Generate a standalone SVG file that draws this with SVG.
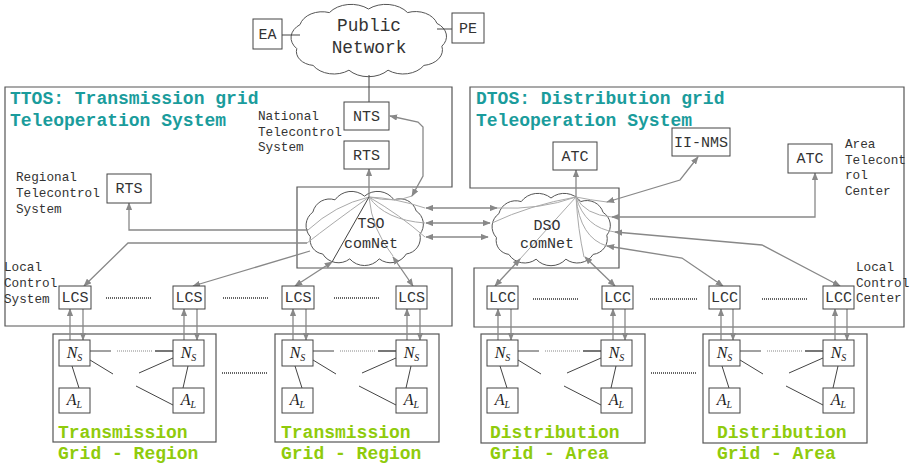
<svg xmlns="http://www.w3.org/2000/svg" width="912" height="466" viewBox="0 0 912 466">
<style>
.bx{fill:#fff;stroke:#444;stroke-width:1}
.cont{fill:none;stroke:#555;stroke-width:1.2}
.cloud{fill:#fff;stroke:#555;stroke-width:1}
.t{font-family:"Liberation Mono",monospace;font-size:15px;fill:#333;text-anchor:middle}
.lbl{font-family:"Liberation Mono",monospace;font-size:12.7px;fill:#333}
.title{font-family:"Liberation Mono",monospace;font-size:18px;font-weight:bold;fill:#1a9c9c}
.grid{font-family:"Liberation Mono",monospace;font-size:18px;font-weight:bold;fill:#8fcb0c}
.math{font-family:"Liberation Serif",serif;font-style:italic;font-size:16px;fill:#222;text-anchor:middle}
.sub{font-size:10px}
.ar{fill:none;stroke:#888;stroke-width:1.3}
.in{fill:none;stroke:#aaa;stroke-width:1}
.dk{fill:none;stroke:#444;stroke-width:1}
.dot{fill:none;stroke:#333;stroke-width:1.5;stroke-dasharray:1 1}
.ln{fill:none;stroke:#444;stroke-width:1}
.lnb{fill:none;stroke:#777;stroke-width:2}
</style>
<defs>
<marker id="ah" viewBox="0 0 10 8" refX="9" refY="4" markerWidth="8" markerHeight="6.4" markerUnits="userSpaceOnUse" orient="auto-start-reverse"><path d="M0,0 L10,4 L0,8 z" fill="#888"/></marker>
<path id="cl" d="M6,38 A13.5,13.5 0 0 1 8,18 A14,14 0 0 1 26,8 A16.5,16.5 0 0 1 50,5 A16.5,16.5 0 0 1 74,8 A13.7,13.7 0 0 1 92,17 A13,13 0 0 1 95,36 A13,13 0 0 1 84,52 A15,15 0 0 1 62,56 A16,16 0 0 1 38,56 A15,15 0 0 1 16,52 A11.7,11.7 0 0 1 6,38 Z"/>
</defs>
<rect width="912" height="466" fill="#fff"/>

<g id="containers">
<polygon class="cont" points="5,87 452,87 452,187 297,187 297,268 452,268 452,326 5,326"/>
<polygon class="cont" points="470,87 904,87 904,327 474,327 474,268 619,268 619,188 470,188"/>
<rect class="cont" x="53" y="334" width="163" height="108"/>
<rect class="cont" x="275" y="334" width="164" height="108"/>
<rect class="cont" x="481" y="334" width="164" height="109"/>
<rect class="cont" x="703" y="334" width="164" height="109"/>
</g>

<g id="public-network">
<path d="M6,38 A13.5,13.5 0 0 1 8,18 A14,14 0 0 1 26,8 A16.5,16.5 0 0 1 50,5 A16.5,16.5 0 0 1 74,8 A13.7,13.7 0 0 1 92,17 A13,13 0 0 1 95,36 A13,13 0 0 1 84,52 A15,15 0 0 1 62,56 A16,16 0 0 1 38,56 A15,15 0 0 1 16,52 A11.7,11.7 0 0 1 6,38 Z" class="cloud" vector-effect="non-scaling-stroke" transform="translate(287,3) scale(1.63,1.2)"/>
</g>
<g id="tso-comnet">
<path d="M6,38 A13.5,13.5 0 0 1 8,18 A14,14 0 0 1 26,8 A16.5,16.5 0 0 1 50,5 A16.5,16.5 0 0 1 74,8 A13.7,13.7 0 0 1 92,17 A13,13 0 0 1 95,36 A13,13 0 0 1 84,52 A15,15 0 0 1 62,56 A16,16 0 0 1 38,56 A15,15 0 0 1 16,52 A11.7,11.7 0 0 1 6,38 Z" class="cloud" vector-effect="non-scaling-stroke" transform="translate(303,190) scale(1.23,1.23)"/>
</g>
<g id="dso-comnet">
<path d="M6,38 A13.5,13.5 0 0 1 8,18 A14,14 0 0 1 26,8 A16.5,16.5 0 0 1 50,5 A16.5,16.5 0 0 1 74,8 A13.7,13.7 0 0 1 92,17 A13,13 0 0 1 95,36 A13,13 0 0 1 84,52 A15,15 0 0 1 62,56 A16,16 0 0 1 38,56 A15,15 0 0 1 16,52 A11.7,11.7 0 0 1 6,38 Z" class="cloud" vector-effect="non-scaling-stroke" transform="translate(489,192) scale(1.24,1.2)"/>
</g>

<g id="connectors">
<!-- public network -->
<line class="ln" x1="282" y1="35" x2="300" y2="35"/>
<line class="ln" x1="437" y1="29" x2="452" y2="29"/>
<line class="ln" x1="369" y1="75" x2="369" y2="102"/>
<!-- TSO internal curves -->
<path class="in" d="M369,197 Q335,205 308,230"/>
<path class="in" d="M369,197 Q330,225 307,243"/>
<path class="in" d="M369,197 Q395,198 425,208"/>
<path class="in" d="M369,197 Q385,220 425,223"/>
<path class="in" d="M369,197 Q372,230 393,256"/>
<path class="in" d="M369,197 Q400,215 425,237"/>
<path class="in" d="M369,197 Q395,203 412,196"/>
<path class="dk" d="M369,197 L332,262"/>
<!-- TSO arrows -->
<line class="ar" x1="369" y1="197" x2="369" y2="169" marker-end="url(#ah)"/>
<polyline class="ar" points="412,196 423,176 423,127 418,122 390,116" marker-start="url(#ah)" marker-end="url(#ah)"/>
<polyline class="ar" points="308,230 129,230 129,203" marker-end="url(#ah)"/>
<polyline class="ar" points="307,243 128,243 84,286" marker-end="url(#ah)"/>
<line class="ar" x1="310" y1="251" x2="193" y2="286" marker-end="url(#ah)"/>
<line class="ar" x1="332" y1="262" x2="295" y2="286" marker-start="url(#ah)" marker-end="url(#ah)"/>
<line class="ar" x1="393" y1="257" x2="413" y2="286" marker-start="url(#ah)" marker-end="url(#ah)"/>
<line class="ar" x1="426" y1="208" x2="497" y2="208" marker-start="url(#ah)" marker-end="url(#ah)"/>
<line class="ar" x1="426" y1="223" x2="490" y2="223" marker-start="url(#ah)" marker-end="url(#ah)"/>
<line class="ar" x1="426" y1="237" x2="488" y2="237" marker-start="url(#ah)" marker-end="url(#ah)"/>
<!-- DSO internal curves -->
<path class="in" d="M576,197 Q540,210 497,208"/>
<path class="in" d="M576,197 Q530,205 492,223"/>
<path class="in" d="M576,197 Q590,200 607,202"/>
<path class="in" d="M576,197 Q585,215 612,217"/>
<path class="in" d="M576,197 Q585,228 615,232"/>
<path class="in" d="M576,197 Q580,238 607,246"/>
<path class="in" d="M576,197 Q578,230 584,257"/>
<path class="in" d="M576,197 L520,259"/>
<!-- DSO arrows -->
<line class="ar" x1="576" y1="197" x2="576" y2="170" marker-end="url(#ah)"/>
<polyline class="ar" points="607,202 680,180 698,157" marker-start="url(#ah)" marker-end="url(#ah)"/>
<polyline class="ar" points="612,217 815,217 815,173" marker-start="url(#ah)" marker-end="url(#ah)"/>
<polyline class="ar" points="615,232 762,245 840,286" marker-start="url(#ah)" marker-end="url(#ah)"/>
<polyline class="ar" points="607,246 682,258 723,286" marker-start="url(#ah)" marker-end="url(#ah)"/>
<line class="ar" x1="585" y1="257" x2="615" y2="286" marker-start="url(#ah)" marker-end="url(#ah)"/>
<line class="ar" x1="520" y1="259" x2="495" y2="286" marker-start="url(#ah)" marker-end="url(#ah)"/>
<!-- LCS / LCC to N_S -->
<line class="ar" x1="70" y1="340" x2="70" y2="309" marker-end="url(#ah)"/>
<line class="ar" x1="83" y1="309" x2="83" y2="340" marker-end="url(#ah)"/>
<line class="ar" x1="184" y1="340" x2="184" y2="309" marker-end="url(#ah)"/>
<line class="ar" x1="197" y1="309" x2="197" y2="340" marker-end="url(#ah)"/>
<line class="ar" x1="293" y1="340" x2="293" y2="309" marker-end="url(#ah)"/>
<line class="ar" x1="306" y1="309" x2="306" y2="340" marker-end="url(#ah)"/>
<line class="ar" x1="407" y1="340" x2="407" y2="309" marker-end="url(#ah)"/>
<line class="ar" x1="420" y1="309" x2="420" y2="340" marker-end="url(#ah)"/>
<line class="ar" x1="498" y1="340" x2="498" y2="309" marker-end="url(#ah)"/>
<line class="ar" x1="511" y1="309" x2="511" y2="340" marker-end="url(#ah)"/>
<line class="ar" x1="613" y1="340" x2="613" y2="309" marker-end="url(#ah)"/>
<line class="ar" x1="625" y1="309" x2="625" y2="340" marker-end="url(#ah)"/>
<line class="ar" x1="721" y1="340" x2="721" y2="309" marker-end="url(#ah)"/>
<line class="ar" x1="733" y1="309" x2="733" y2="340" marker-end="url(#ah)"/>
<line class="ar" x1="835" y1="340" x2="835" y2="309" marker-end="url(#ah)"/>
<line class="ar" x1="847" y1="309" x2="847" y2="340" marker-end="url(#ah)"/>
<!-- dotted separators -->
<line class="dot" x1="106" y1="298" x2="151" y2="298"/>
<line class="dot" x1="223" y1="298" x2="268" y2="298"/>
<line class="dot" x1="334" y1="298" x2="380" y2="298"/>
<line class="dot" x1="533" y1="299" x2="579" y2="299"/>
<line class="dot" x1="650" y1="299" x2="697" y2="299"/>
<line class="dot" x1="762" y1="299" x2="808" y2="299"/>
<line class="dot" x1="222" y1="373" x2="268" y2="373"/>
<line class="dot" x1="651" y1="373" x2="697" y2="373"/>
<!-- region internals -->
<g id="r1-edges">
<line class="ln" x1="90" y1="351" x2="111" y2="351"/>
<line class="dot" x1="117" y1="351" x2="153" y2="351" style="stroke:#888;stroke-width:1.2"/>
<line class="lnb" x1="155" y1="351" x2="173" y2="351"/>
<line class="ln" x1="72" y1="366" x2="79" y2="388"/>
<line class="ln" x1="188" y1="366" x2="183" y2="388"/>
<line class="ln" x1="90" y1="360" x2="113" y2="374"/>
<line class="ln" x1="173" y1="358" x2="139" y2="373"/>
<line class="ln" x1="173" y1="405" x2="136" y2="386"/>
</g>
<g id="r2-edges" transform="translate(223,0)">
<line class="ln" x1="90" y1="351" x2="111" y2="351"/>
<line class="dot" x1="117" y1="351" x2="153" y2="351" style="stroke:#888;stroke-width:1.2"/>
<line class="lnb" x1="155" y1="351" x2="173" y2="351"/>
<line class="ln" x1="72" y1="366" x2="79" y2="388"/>
<line class="ln" x1="188" y1="366" x2="183" y2="388"/>
<line class="ln" x1="90" y1="360" x2="113" y2="374"/>
<line class="ln" x1="173" y1="358" x2="139" y2="373"/>
<line class="ln" x1="173" y1="405" x2="136" y2="386"/>
</g>
<g id="r3-edges" transform="translate(428,0)">
<line class="ln" x1="90" y1="351" x2="111" y2="351"/>
<line class="dot" x1="117" y1="351" x2="153" y2="351" style="stroke:#888;stroke-width:1.2"/>
<line class="lnb" x1="155" y1="351" x2="173" y2="351"/>
<line class="ln" x1="72" y1="366" x2="79" y2="388"/>
<line class="ln" x1="188" y1="366" x2="183" y2="388"/>
<line class="ln" x1="90" y1="360" x2="113" y2="374"/>
<line class="ln" x1="173" y1="358" x2="139" y2="373"/>
<line class="ln" x1="173" y1="405" x2="136" y2="386"/>
</g>
<g id="r4-edges" transform="translate(650,0)">
<line class="ln" x1="90" y1="351" x2="111" y2="351"/>
<line class="dot" x1="117" y1="351" x2="153" y2="351" style="stroke:#888;stroke-width:1.2"/>
<line class="lnb" x1="155" y1="351" x2="173" y2="351"/>
<line class="ln" x1="72" y1="366" x2="79" y2="388"/>
<line class="ln" x1="188" y1="366" x2="183" y2="388"/>
<line class="ln" x1="90" y1="360" x2="113" y2="374"/>
<line class="ln" x1="173" y1="358" x2="139" y2="373"/>
<line class="ln" x1="173" y1="405" x2="136" y2="386"/>
</g>
</g>

<!-- cloud labels -->
<text class="t" x="369" y="31" style="font-size:17.8px">Public</text>
<text class="t" x="369" y="53" style="font-size:17.8px">Network</text>
<text class="t" x="371" y="228">TSO</text>
<text class="t" x="371" y="248">comNet</text>
<text class="t" x="547" y="230">DSO</text>
<text class="t" x="547" y="248">comNet</text>

<g id="ea"><rect class="bx" x="253" y="19" width="29" height="30"/><text class="t" x="267.5" y="39">EA</text></g>
<g id="pe"><rect class="bx" x="452" y="13" width="32" height="30"/><text class="t" x="468" y="33">PE</text></g>
<g id="nts"><rect class="bx" x="344" y="102" width="45" height="28"/><text class="t" x="366.5" y="121">NTS</text></g>
<g id="rts-national"><rect class="bx" x="344" y="141" width="45" height="28"/><text class="t" x="366.5" y="160">RTS</text></g>
<g id="rts-regional"><rect class="bx" x="107" y="174" width="44" height="29"/><text class="t" x="129" y="193">RTS</text></g>
<g id="atc-dtos"><rect class="bx" x="553" y="142" width="44" height="28"/><text class="t" x="575" y="161">ATC</text></g>
<g id="ii-nms"><rect class="bx" x="672" y="128" width="58" height="28"/><text class="t" x="701" y="147">II-NMS</text></g>
<g id="atc-area"><rect class="bx" x="788" y="144" width="44" height="29"/><text class="t" x="810" y="163">ATC</text></g>

<g id="lcs1"><rect class="bx" x="59" y="286" width="32" height="23"/><text class="t" x="75" y="302">LCS</text></g>
<g id="lcs2"><rect class="bx" x="173" y="286" width="32" height="23"/><text class="t" x="189" y="302">LCS</text></g>
<g id="lcs3"><rect class="bx" x="282" y="286" width="32" height="23"/><text class="t" x="298" y="302">LCS</text></g>
<g id="lcs4"><rect class="bx" x="396" y="286" width="31" height="23"/><text class="t" x="411.5" y="302">LCS</text></g>
<g id="lcc1"><rect class="bx" x="487" y="286" width="31" height="23"/><text class="t" x="502.5" y="302">LCC</text></g>
<g id="lcc2"><rect class="bx" x="602" y="286" width="31" height="23"/><text class="t" x="617.5" y="302">LCC</text></g>
<g id="lcc3"><rect class="bx" x="709" y="286" width="31" height="23"/><text class="t" x="724.5" y="302">LCC</text></g>
<g id="lcc4"><rect class="bx" x="823" y="286" width="31" height="23"/><text class="t" x="838.5" y="302">LCC</text></g>

<g id="ns1"><rect class="bx" x="59" y="340" width="31" height="26"/><text class="math" x="74.5" y="358">N<tspan class="sub" dy="3">S</tspan></text></g>
<g id="ns2"><rect class="bx" x="173" y="340" width="31" height="26"/><text class="math" x="188.5" y="358">N<tspan class="sub" dy="3">S</tspan></text></g>
<g id="al1"><rect class="bx" x="59" y="388" width="31" height="25"/><text class="math" x="74.5" y="405">A<tspan class="sub" dy="3">L</tspan></text></g>
<g id="al2"><rect class="bx" x="173" y="388" width="31" height="25"/><text class="math" x="188.5" y="405">A<tspan class="sub" dy="3">L</tspan></text></g>
<g id="ns3"><rect class="bx" x="282" y="340" width="31" height="26"/><text class="math" x="297.5" y="358">N<tspan class="sub" dy="3">S</tspan></text></g>
<g id="ns4"><rect class="bx" x="396" y="340" width="31" height="26"/><text class="math" x="411.5" y="358">N<tspan class="sub" dy="3">S</tspan></text></g>
<g id="al3"><rect class="bx" x="282" y="388" width="31" height="25"/><text class="math" x="297.5" y="405">A<tspan class="sub" dy="3">L</tspan></text></g>
<g id="al4"><rect class="bx" x="396" y="388" width="31" height="25"/><text class="math" x="411.5" y="405">A<tspan class="sub" dy="3">L</tspan></text></g>
<g id="ns5"><rect class="bx" x="487" y="340" width="31" height="26"/><text class="math" x="502.5" y="358">N<tspan class="sub" dy="3">S</tspan></text></g>
<g id="ns6"><rect class="bx" x="601" y="340" width="31" height="26"/><text class="math" x="616.5" y="358">N<tspan class="sub" dy="3">S</tspan></text></g>
<g id="al5"><rect class="bx" x="487" y="388" width="31" height="25"/><text class="math" x="502.5" y="405">A<tspan class="sub" dy="3">L</tspan></text></g>
<g id="al6"><rect class="bx" x="601" y="388" width="31" height="25"/><text class="math" x="616.5" y="405">A<tspan class="sub" dy="3">L</tspan></text></g>
<g id="ns7"><rect class="bx" x="709" y="340" width="31" height="26"/><text class="math" x="724.5" y="358">N<tspan class="sub" dy="3">S</tspan></text></g>
<g id="ns8"><rect class="bx" x="823" y="340" width="31" height="26"/><text class="math" x="838.5" y="358">N<tspan class="sub" dy="3">S</tspan></text></g>
<g id="al7"><rect class="bx" x="709" y="388" width="31" height="25"/><text class="math" x="724.5" y="405">A<tspan class="sub" dy="3">L</tspan></text></g>
<g id="al8"><rect class="bx" x="823" y="388" width="31" height="25"/><text class="math" x="838.5" y="405">A<tspan class="sub" dy="3">L</tspan></text></g>

<!-- titles and labels -->
<text class="title" x="10" y="104">TTOS: Transmission grid</text>
<text class="title" x="10" y="126">Teleoperation System</text>
<text class="title" x="476" y="104">DTOS: Distribution grid</text>
<text class="title" x="476" y="126">Teleoperation System</text>
<text class="lbl" x="258" y="120">National</text>
<text class="lbl" x="258" y="135.5">Telecontrol</text>
<text class="lbl" x="258" y="151">System</text>
<text class="lbl" x="16" y="181">Regional</text>
<text class="lbl" x="16" y="197">Telecontrol</text>
<text class="lbl" x="16" y="213">System</text>
<text class="lbl" x="845" y="148">Area</text>
<text class="lbl" x="845" y="163.5">Telecont</text>
<text class="lbl" x="845" y="179">rol</text>
<text class="lbl" x="845" y="194.5">Center</text>
<text class="lbl" x="856" y="271">Local</text>
<text class="lbl" x="856" y="286.5">Control</text>
<text class="lbl" x="856" y="302">Center</text>
<text class="lbl" x="4" y="271">Local</text>
<text class="lbl" x="4" y="287">Control</text>
<text class="lbl" x="4" y="303">System</text>
<text class="grid" x="58" y="438">Transmission</text>
<text class="grid" x="58" y="459">Grid - Region</text>
<text class="grid" x="281" y="438">Transmission</text>
<text class="grid" x="281" y="459">Grid - Region</text>
<text class="grid" x="490" y="438">Distribution</text>
<text class="grid" x="490" y="459">Grid - Area</text>
<text class="grid" x="717" y="438">Distribution</text>
<text class="grid" x="717" y="459">Grid - Area</text>
</svg>
